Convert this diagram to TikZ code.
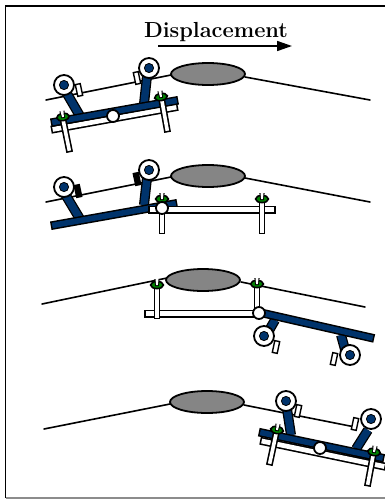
\documentclass[tikz,border=0pt]{standalone}
\usepackage{xcolor}
\usepackage{tikz}
\usetikzlibrary{arrows.meta}
\definecolor{beamBlue}{rgb}{0, 0.2, 0.42}
\definecolor{gripGreen}{rgb}{0, 0.5, 0}
\definecolor{lumpGray}{gray}{0.52}
\tikzset{
	outline/.style={draw=black, line width=1.8pt},
	bluebar/.style={draw=black, line width=1.5pt, double=beamBlue, double distance=5.6pt, line cap=rect},
	whitebar/.style={draw=black, line width=1.6pt, double=white, double distance=4.8pt, line cap=rect},
	armbar/.style={draw=black, line width=1.3pt, double=beamBlue, double distance=7.4pt},
	pegbar/.style={draw=black, line width=1.6pt, double=white, double distance=3.6pt, line cap=rect},
	skin/.style={line width=1.6pt, line cap=round}
}
% wheel, brake shoe, gripper and soft lump
\newcommand{\wheel}[1]{
	\filldraw[outline, fill=white] (#1) circle (10);
	\filldraw[draw=black, line width=.8pt, fill=beamBlue] (#1) circle (4.6);
}
\newcommand{\shoe}[3]{
	\filldraw[draw=black, line width=1.4pt, fill=#3, rotate around={#2:(#1)}] ([xshift=-2.5,yshift=-6]#1) rectangle ([xshift=2.5,yshift=6]#1);
}
\newcommand{\grip}[2]{
	\begin{scope}[shift={(#1)}, rotate=#2]
		\filldraw[draw=black, line width=1.6pt, fill=gripGreen] (0,0) ellipse (6.4 and 3.6);
		\fill[black] (-2.6,-6) -- (2.6,-6) -- (1.7,1) -- (-1.7,1) -- cycle;
		\fill[white] (-1.5,-6) -- (1.5,-6) -- (.9,0) -- (-.9,0) -- cycle;
	\end{scope}
}
\newcommand{\lump}[1]{
	\filldraw[outline, fill=lumpGray] (#1) ellipse (37 and 11);
}
\newcommand{\hinge}[1]{
	\filldraw[outline, fill=white] (#1) circle (6);
}

\begin{document}
\begin{tikzpicture}[x=1pt, y=-1pt]
	\useasboundingbox (0,0) rectangle (385,499);
	\draw[draw=black!45, line width=1.6pt] (5.5,498) -- (386,498);
	\draw[draw=black, line width=1.8pt] (5.5,498) -- (5.5,6) -- (386,6);

	\node[font=\bfseries\fontsize{21.8}{24}\selectfont, anchor=base] (title) at (216,37) {Displacement};
	\coordinate (arrowL) at (158,46);
	\coordinate (arrowR) at (292,46);
	\draw[-{Triangle[length=15, width=10]}, line width=1.6pt] (arrowL) -- (arrowR);

	% first position
	\draw[skin] (46,100) -- (171,75);
	\draw[skin] (245,77) -- (370,100);
	\lump{208,74}
	\shoe{79,90}{12}{white}
	\shoe{137,78}{12}{white}
	\draw[armbar] (66,92) -- (80,116);
	\draw[armbar] (147,76) -- (144,104);
	\draw[whitebar] (55,129) -- (174,107.5);
	\draw[bluebar] (55,122) -- (174,101);
	\draw[pegbar] (63.5,122) -- (69,149);
	\draw[pegbar] (162,101) -- (167,129);
	\grip{63,117}{10}
	\grip{161,97}{10}
	\wheel{64,85}
	\wheel{149,68}
	\hinge{113,116}

	% second position
	\draw[skin] (46,202) -- (171,177);
	\draw[skin] (245,178) -- (370,202);
	\lump{208,176}
	\shoe{78,191}{12}{black}
	\shoe{137,179}{12}{black}
	\draw[armbar] (65,194) -- (80,219);
	\draw[armbar] (147,178) -- (144,205);
	\draw[bluebar] (55,225) -- (173,204);
	\draw[whitebar] (152,209.5) -- (272,209.5);
	\draw[pegbar] (162,204) -- (162,231);
	\draw[pegbar] (262,204) -- (262,231);
	\grip{162,199}{0}
	\grip{262,199}{0}
	\hinge{162,208}
	\wheel{64,187}
	\wheel{149,170}

	% third position
	\draw[skin] (42,304) -- (167,278);
	\draw[skin] (241,282) -- (365,307);
	\lump{203,280}
	\shoe{276,347}{-12}{white}
	\shoe{334,359}{-12}{white}
	\draw[armbar] (275,320) -- (267,334);
	\draw[armbar] (341,335) -- (346,353);
	\draw[whitebar] (148,313.5) -- (253,313.5);
	\draw[pegbar] (157,288) -- (157,316);
	\draw[pegbar] (257,288) -- (257,309);
	\grip{157,285}{0}
	\grip{257,284}{0}
	\draw[bluebar] (262,313) -- (370,337.5);
	\hinge{259,313}
	\wheel{264,336}
	\wheel{350,355}

	% fourth position
	\draw[skin] (44,429) -- (170,404);
	\draw[skin] (244,405) -- (355,427);
	\lump{207,402}
	\shoe{298,411}{-12}{white}
	\shoe{355,424}{-12}{white}
	\draw[armbar] (287,409) -- (291,435);
	\draw[armbar] (368,430) -- (356,449);
	\draw[whitebar] (264,441.5) -- (382,466);
	\draw[bluebar] (263,433) -- (380,457.5);
	\draw[pegbar] (276,434) -- (270,462);
	\draw[pegbar] (373,456) -- (368,483);
	\grip{277,430}{-10}
	\grip{374,452}{-10}
	\wheel{286,401}
	\wheel{371,419}
	\hinge{320,448}
\end{tikzpicture}
\end{document}
